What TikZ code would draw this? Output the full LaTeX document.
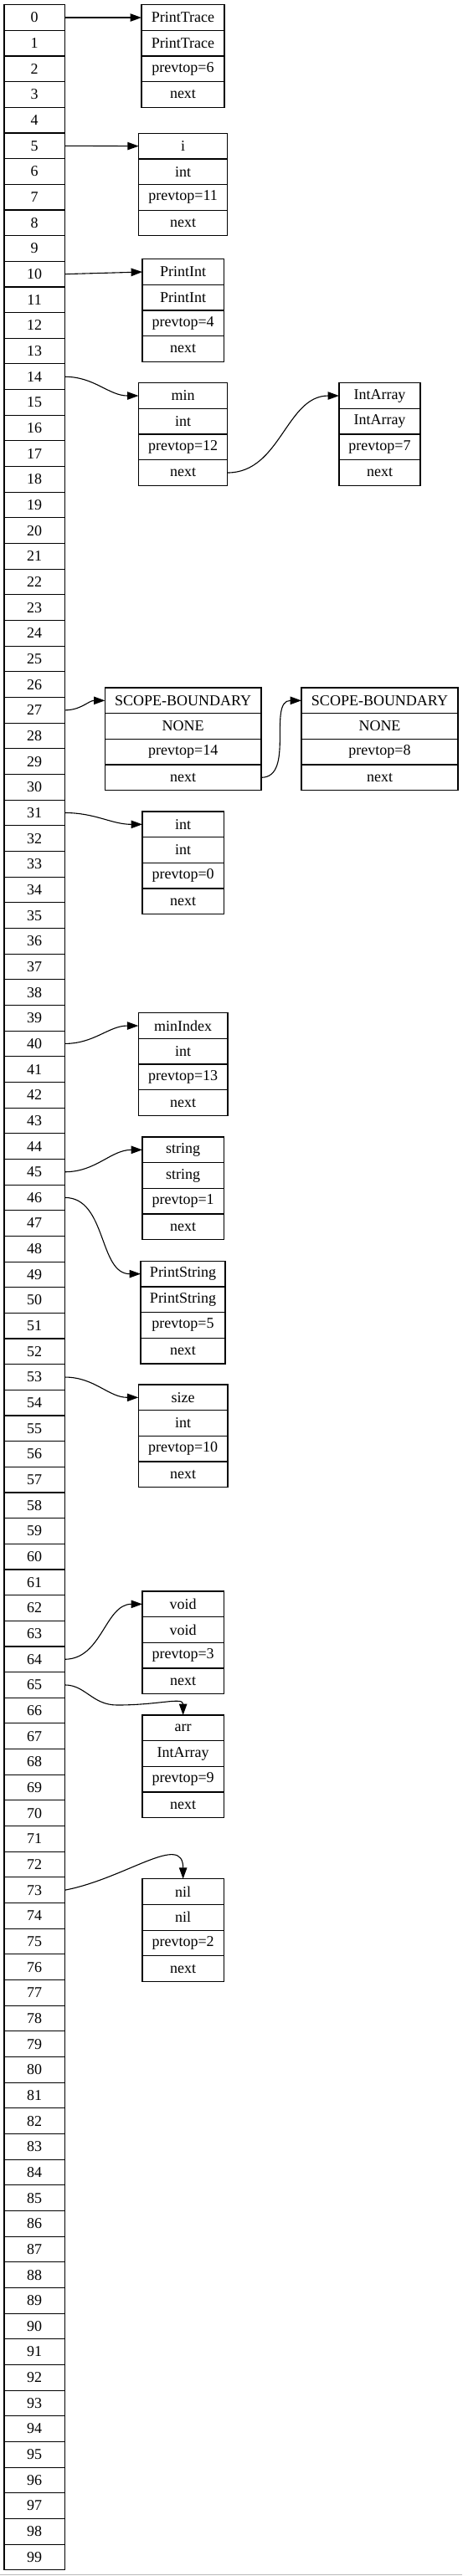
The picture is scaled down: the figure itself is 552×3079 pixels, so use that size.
\documentclass[tikz,border=0pt]{standalone}
\usepackage{fontspec}
\setmainfont{Liberation Serif}
\usetikzlibrary{arrows.meta}
\newcommand\myrecord[8]{%
  \node[cell, minimum width={#3-#2}] (#1-1) at ({(#2+#3)/2},{-(#4+15.33)}) {#5};
  \node[cell, minimum width={#3-#2}] (#1-2) at ({(#2+#3)/2},{-(#4+45.99)}) {#6};
  \node[cell, minimum width={#3-#2}] (#1-3) at ({(#2+#3)/2},{-(#4+76.65)}) {#7};
  \node[cell, minimum width={#3-#2}] (#1-4) at ({(#2+#3)/2},{-(#4+107.31)}) {#8};
  \draw[frame] (#1-1.north west) rectangle (#1-4.south east);
  \draw[frame] (#1-2.north west) -- (#1-2.north east);
  \draw[frame] (#1-3.north west) -- (#1-3.north east);
  \draw[frame] (#1-4.north west) -- (#1-4.north east);
}
\begin{document}
\begin{tikzpicture}[x=1pt,y=1pt,
  cell/.style={minimum height=30.66pt, inner sep=0pt, outer sep=0pt, font=\fontsize{18}{20}\selectfont},
  frame/.style={draw=black, line width=1.1pt},
  link/.style={draw=black, line width=1.1pt, -{Triangle[length=13.4pt,width=9.4pt]}}]
\useasboundingbox (0,0) rectangle (552,-3079);
\fill[white] (0,0) rectangle (552,-3079);
\draw[gray!55, line width=1pt] (0,-3077.5) -- (552,-3077.5);
\foreach \i in {0,...,99}{
  \node[cell, minimum width=72.3pt] (a\i) at (41.15,{-(5.7+30.66*(\i+0.5))}) {\i};
}
\draw[frame] (a0.north west) rectangle (a99.south east);
\foreach \i in {1,...,99}{
  \draw[frame] (a\i.north west) -- (a\i.north east);
}
\myrecord{PT}{169}{268}{5.7}{PrintTrace}{PrintTrace}{prevtop=6}{next}
\myrecord{I}{165.7}{271.7}{159.3}{i}{int}{prevtop=11}{next}
\myrecord{PI}{170}{267.3}{309.7}{PrintInt}{PrintInt}{prevtop=4}{next}
\myrecord{MIN}{165.5}{271.8}{457.7}{min}{int}{prevtop=12}{next}
\myrecord{IA}{405}{502}{457.7}{IntArray}{IntArray}{prevtop=7}{next}
\myrecord{SBa}{125.4}{312}{822}{SCOPE-BOUNDARY}{NONE}{prevtop=14}{next}
\myrecord{SBb}{360}{547}{822}{SCOPE-BOUNDARY}{NONE}{prevtop=8}{next}
\myrecord{INT}{170}{267.3}{970}{int}{int}{prevtop=0}{next}
\myrecord{MI}{165.3}{272}{1210.7}{minIndex}{int}{prevtop=13}{next}
\myrecord{STR}{170}{267.3}{1359}{string}{string}{prevtop=1}{next}
\myrecord{PS}{168}{269}{1507.3}{PrintString}{PrintString}{prevtop=5}{next}
\myrecord{SZ}{165.3}{272}{1655}{size}{int}{prevtop=10}{next}
\myrecord{V}{170}{267.3}{1902}{void}{void}{prevtop=3}{next}
\myrecord{ARR}{170}{267.3}{2050}{arr}{IntArray}{prevtop=9}{next}
\myrecord{NIL}{170}{267.3}{2245.7}{nil}{nil}{prevtop=2}{next}
\draw[link] (a0.east) -- (PT-1.west);
\draw[link] (a5.east) -- (I-1.west);
\draw[link] (a10.east) -- (PI-1.west);
\draw[link] (a14.east) to[out=0,in=180] (MIN-1.west);
\draw[link] (MIN-4.east) to[out=0,in=180] (IA-1.west);
\draw[link] (a27.east) to[out=0,in=180] (SBa-1.west);
\draw[link] (SBa-4.east) to[out=0,in=180] (SBb-1.west);
\draw[link] (a31.east) to[out=0,in=180] (INT-1.west);
\draw[link] (a40.east) to[out=0,in=180] (MI-1.west);
\draw[link] (a45.east) to[out=0,in=180] (STR-1.west);
\draw[link] (a46.east) to[out=0,in=180] (PS-1.west);
\draw[link] (a53.east) to[out=0,in=180] (SZ-1.west);
\draw[link] (a64.east) to[out=0,in=180] (V-1.west);
\draw[link] (a65.east) .. controls +(25,0) and +(-30,0) .. (140,-2038) .. controls +(50,0) and +(0,22) .. (ARR-1.north);
\draw[link] (a73.east) .. controls +(73,14) and +(0,56) .. (NIL-1.north);
\end{tikzpicture}
\end{document}
